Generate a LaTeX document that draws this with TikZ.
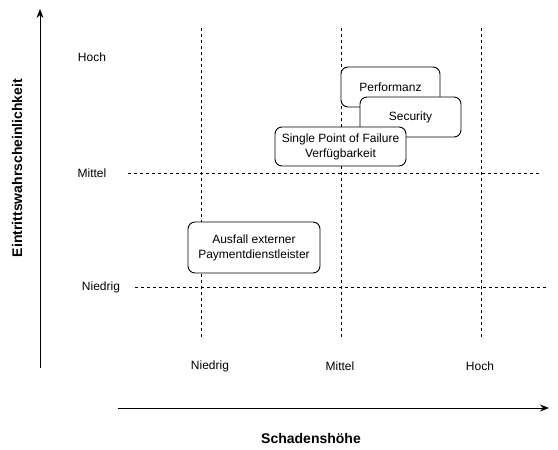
\documentclass[tikz,border=0pt]{standalone}
\usepackage{fontspec}
\setmainfont{Liberation Sans}
\usetikzlibrary{arrows.meta}
\begin{document}
\begin{tikzpicture}[x=1pt,y=-1pt,
  grid/.style={line width=0.9pt, dash pattern=on 3pt off 3pt},
  axis/.style={line width=0.9pt, -{Stealth[length=9pt,width=7pt]}},
  lbl/.style={font=\fontsize{12}{14}\selectfont, inner sep=0pt},
  ttl/.style={font=\bfseries\fontsize{14}{16}\selectfont, inner sep=0pt},
  risk/.style={draw, line width=0.9pt, fill=white, rounded corners=7pt, align=center,
    font=\fontsize{12}{15}\selectfont, inner sep=0pt}]
\useasboundingbox (0,0) rectangle (558,450);
% dashed grid
\coordinate (v1t) at (201,28); \coordinate (v1b) at (201,337);
\coordinate (v2t) at (341,28); \coordinate (v2b) at (341,337);
\coordinate (v3t) at (481,28); \coordinate (v3b) at (481,337);
\coordinate (h1l) at (128,173); \coordinate (h1r) at (539,173);
\coordinate (h2l) at (135,287); \coordinate (h2r) at (546,287);
\draw[grid] (v1t) -- (v1b);
\draw[grid] (v2t) -- (v2b);
\draw[grid] (v3t) -- (v3b);
\draw[grid] (h1l) -- (h1r);
\draw[grid] (h2l) -- (h2r);
% axes
\coordinate (yb) at (40,368); \coordinate (yt) at (40,9);
\coordinate (xl) at (118,408); \coordinate (xr) at (549,408);
\draw[axis] (yb) -- (yt);
\draw[axis] (xl) -- (xr);
% labels
\node[lbl] (yh) at (92,57) {Hoch};
\node[lbl] (ym) at (92,173) {Mittel};
\node[lbl] (yn) at (101,287) {Niedrig};
\node[lbl] (xn) at (210,366) {Niedrig};
\node[lbl] (xm) at (340,366) {Mittel};
\node[lbl] (xh) at (480,366) {Hoch};
\node[ttl] (xt) at (311,438) {Schadenshöhe};
\node[ttl, rotate=90] (yt2) at (17,168) {Eintrittswahrscheinlichkeit};
% risk boxes
\node[risk, minimum width=99pt, minimum height=40pt] (perf) at (390.5,87) {Performanz};
\node[risk, minimum width=101pt, minimum height=40pt] (sec) at (410.5,117) {Security};
\node[risk, minimum width=131pt, minimum height=39pt] (spof) at (340.5,146.5) {Single Point of Failure\\Verfügbarkeit};
\node[risk, minimum width=132pt, minimum height=51pt] (ausf) at (254,247.5) {Ausfall externer\\Paymentdienstleister};
\end{tikzpicture}
\end{document}
